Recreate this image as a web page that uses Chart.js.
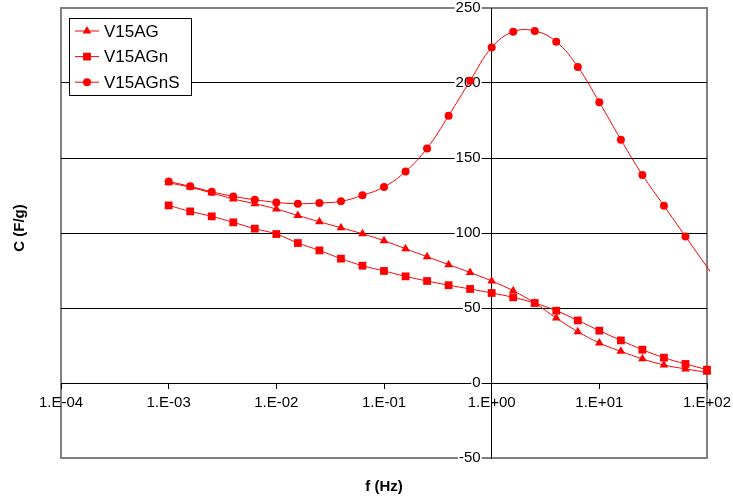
<!DOCTYPE html>
<html>
<head>
<meta charset="utf-8">
<script src="https://cdn.jsdelivr.net/npm/chart.js@4/dist/chart.umd.min.js"></script>
<style>
  html, body { margin: 0; padding: 0; background: #fff; }
  #wrap { width: 733px; height: 501px; position: relative; }
</style>
</head>
<body>
<div id="wrap"><canvas id="chart"></canvas></div>
<script>
// frecuencias (Hz), 5 puntos por década
const freqs = [
  0.001, 0.001585, 0.002512, 0.003981, 0.00631,
  0.01, 0.01585, 0.02512, 0.03981, 0.0631,
  0.1, 0.1585, 0.2512, 0.3981, 0.631,
  1, 1.585, 2.512, 3.981, 6.31,
  10, 15.85, 25.12, 39.81, 63.1,
  100
];
// V15AGnS sigue un punto más allá del eje (queda recortado)
const freqsS = freqs.slice(0, 25).concat([158.5]);

const v15AG = [
  133.5, 130.5, 126.7, 122.7, 119.5, 116, 111.7, 107.5, 103.5, 99.5,
  94.9, 89.5, 84.2, 78.9, 73.7, 68, 61.5, 53.3, 43.3, 34.2,
  26.7, 21.1, 16.1, 12, 9.4, 7.1
];
const v15AGn = [
  118.4, 114.4, 111.1, 107.1, 102.9, 99.3, 93.3, 88.4, 82.9, 78.2,
  74.7, 71.1, 68, 65.2, 62.7, 60, 57.1, 53.3, 48.2, 41.7,
  34.9, 28.4, 22.2, 16.9, 12.7, 8.9
];
const v15AGnS = [
  134.4, 131.1, 127.5, 124.4, 122.2, 120.4, 119.5, 120, 121.1, 125.1,
  130.7, 141, 156.4, 178.2, 201.5, 223.7, 234.2, 234.7, 227.5, 210.7,
  187.1, 162.2, 138.7, 118.2, 97.7, 57
];

const xTicks = [1e-4, 1e-3, 1e-2, 1e-1, 1e0, 1e1, 1e2];
const yTicks = [-50, 0, 50, 100, 150, 200, 250];

const FONT = '"Liberation Sans", Arial, sans-serif';
const RED = '#ff0000';

function toPoints(xs, ys) {
  return ys.map((y, i) => ({ x: xs[i], y }));
}

function expLabel(v) {
  const e = Math.round(Math.log10(v));
  const s = e < 0 ? '-' : '+';
  return '1.E' + s + String(Math.abs(e)).padStart(2, '0');
}

// los ejes posicionados no ocupan sitio en el layout
function noSpace(s) {
  if (s.isHorizontal()) s.height = 0; else s.width = 0;
  s.paddingTop = s.paddingBottom = s.paddingLeft = s.paddingRight = 0;
}

// ─── marco del área, leyenda y títulos ───────────────────────────────
const decor = {
  id: 'decor',
  beforeDraw(chart) {
    const { ctx, chartArea: a } = chart;
    ctx.save();
    ctx.strokeStyle = '#808080';
    ctx.lineWidth = 2;
    ctx.strokeRect(a.left, a.top, a.right - a.left, a.bottom - a.top);
    ctx.restore();
  },
  afterDraw(chart) {
    const { ctx } = chart;
    ctx.save();

    // leyenda
    const bx = 69, by = 18, bw = 122, bh = 77;
    ctx.fillStyle = '#fff';
    ctx.fillRect(bx, by, bw, bh);
    ctx.strokeStyle = '#000';
    ctx.lineWidth = 1;
    ctx.strokeRect(bx + 0.5, by + 0.5, bw, bh);

    chart.data.datasets.forEach((ds, i) => {
      const y = 31 + i * 25.6;
      ctx.strokeStyle = ds.borderColor;
      ctx.lineWidth = 1;
      ctx.beginPath();
      ctx.moveTo(75, y);
      ctx.lineTo(99, y);
      ctx.stroke();
      ctx.fillStyle = ds.pointBackgroundColor;
      Chart.helpers.drawPoint(ctx, {
        pointStyle: ds.pointStyle, radius: ds.pointRadius, rotation: 0, borderWidth: 0
      }, 87, y);
      ctx.fillStyle = '#000';
      ctx.font = '17px ' + FONT;
      ctx.textBaseline = 'middle';
      ctx.textAlign = 'left';
      ctx.fillText(ds.label, 104, y + 1);
    });

    // títulos de ejes
    ctx.fillStyle = '#000';
    ctx.font = 'bold 15px ' + FONT;
    ctx.textAlign = 'center';
    ctx.textBaseline = 'middle';
    ctx.fillText('f (Hz)', 384, 487);
    ctx.translate(20, 228);
    ctx.rotate(-Math.PI / 2);
    ctx.fillText('C (F/g)', 0, 0);
    ctx.restore();
  }
};

new Chart(document.getElementById('chart'), {
  type: 'line',
  data: {
    datasets: [
      {
        label: 'V15AG',
        data: toPoints(freqs, v15AG),
        borderColor: RED,
        backgroundColor: RED,
        pointBackgroundColor: RED,
        pointBorderWidth: 0,
        pointStyle: 'triangle',
        pointRadius: 5,
        borderWidth: 1,
        tension: 0.4,
        clip: 10
      },
      {
        label: 'V15AGn',
        data: toPoints(freqs, v15AGn),
        borderColor: RED,
        backgroundColor: RED,
        pointBackgroundColor: RED,
        pointBorderWidth: 0,
        pointStyle: 'rect',
        pointRadius: 5.5,
        borderWidth: 1,
        tension: 0.4,
        clip: 10
      },
      {
        label: 'V15AGnS',
        data: toPoints(freqsS, v15AGnS),
        borderColor: RED,
        backgroundColor: RED,
        pointBackgroundColor: RED,
        pointBorderWidth: 0,
        pointStyle: 'circle',
        pointRadius: 4,
        borderWidth: 1,
        tension: 0.4,
        clip: { left: 0, top: 0, right: 3, bottom: 0 }
      }
    ]
  },
  options: {
    responsive: true,
    maintainAspectRatio: false,
    animation: false,
    layout: { padding: { left: 61, right: 26, top: 8, bottom: 43 } },
    plugins: {
      legend: { display: false },
      tooltip: { enabled: false }
    },
    scales: {
      x: {
        type: 'logarithmic',
        min: 1e-4,
        max: 1e2,
        position: { y: 0 },
        afterFit: noSpace,
        afterBuildTicks: s => { s.ticks = xTicks.map(v => ({ value: v })); },
        ticks: {
          color: '#000',
          font: { family: FONT, size: 15 },
          padding: 6,
          maxRotation: 0,
          autoSkip: false,
          callback: v => expLabel(v)
        },
        grid: { drawOnChartArea: false, drawTicks: true, tickLength: 5, color: '#000' },
        border: { display: true, color: '#000', width: 1 }
      },
      // eje vertical en f = 1 Hz: rejilla, marcas y línea
      y: {
        type: 'linear',
        min: -50,
        max: 250,
        position: { x: 1 },
        afterFit: noSpace,
        afterBuildTicks: s => { s.ticks = yTicks.map(v => ({ value: v })); },
        ticks: { display: false },
        grid: {
          z: -1,
          color: c => (c.tick && (c.tick.value === 250 || c.tick.value === -50)) ? 'rgba(0,0,0,0)' : '#000',
          lineWidth: 1,
          drawTicks: true,
          tickLength: 4
        },
        border: { display: true, color: '#000', width: 1, z: -1 }
      },
      // etiquetas del eje vertical, a la izquierda de la línea
      yl: {
        type: 'linear',
        axis: 'y',
        min: -50,
        max: 250,
        position: { x: 0.79 },
        afterFit: noSpace,
        afterBuildTicks: s => { s.ticks = yTicks.map(v => ({ value: v })); },
        ticks: {
          color: '#000',
          font: { family: FONT, size: 15 },
          showLabelBackdrop: true,
          backdropColor: '#fff',
          backdropPadding: 1
        },
        grid: { display: false },
        border: { display: false }
      }
    }
  },
  plugins: [decor]
});
</script>
</body>
</html>
